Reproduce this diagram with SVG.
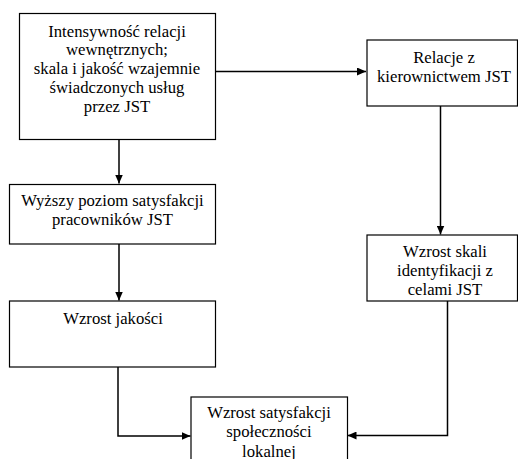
<svg xmlns="http://www.w3.org/2000/svg" width="518" height="459" viewBox="0 0 518 459">
<defs>
<style>
.box{fill:#fff;stroke:#000;stroke-width:1.2}
.t{font-family:'Liberation Serif','Times New Roman',serif;font-size:16.7px;fill:#000;text-anchor:middle}
.c{fill:none;stroke:#000;stroke-width:1.5}
</style>
<marker id="ah" markerUnits="userSpaceOnUse" markerWidth="10" markerHeight="8" refX="9" refY="4" orient="auto">
<path d="M0,0 L9,4 L0,8 Z" fill="#000"/>
</marker>
</defs>
<rect width="518" height="459" fill="#fff"/>
<g id="connectors">
<path class="c" d="M215,71.5 H366" marker-end="url(#ah)"/>
<path class="c" d="M119,139 V183.5" marker-end="url(#ah)"/>
<path class="c" d="M119,244 V300.5" marker-end="url(#ah)"/>
<path class="c" d="M440.5,106 V234.5" marker-end="url(#ah)"/>
<path class="c" d="M118,367 V436 H190.5" marker-end="url(#ah)"/>
<path class="c" d="M447.5,301 V435.5 H347.5" marker-end="url(#ah)"/>
</g>
<g id="n1">
<rect class="box" x="19.5" y="13.5" width="196" height="126"/>
<text class="t" x="117" y="36.7">Intensywność relacji</text>
<text class="t" x="117" y="55.3">wewnętrznych;</text>
<text class="t" x="117" y="74">skala i jakość wzajemnie</text>
<text class="t" x="117" y="92.7">świadczonych usług</text>
<text class="t" x="117" y="111.5">przez JST</text>
</g>
<g id="n2">
<rect class="box" x="367" y="40" width="150.5" height="66"/>
<text class="t" x="444" y="63">Relacje z</text>
<text class="t" x="444" y="82">kierownictwem JST</text>
</g>
<g id="n3">
<rect class="box" x="9.5" y="184.5" width="206" height="59.5"/>
<text class="t" x="112.5" y="206">Wyższy poziom satysfakcji</text>
<text class="t" x="112.5" y="225">pracowników JST</text>
</g>
<g id="n4">
<rect class="box" x="9.5" y="301" width="206" height="66"/>
<text class="t" x="113" y="323.5">Wzrost jakości</text>
</g>
<g id="n5">
<rect class="box" x="367" y="235" width="150.5" height="66"/>
<text class="t" x="445" y="256.7">Wzrost skali</text>
<text class="t" x="445" y="276">identyfikacji z</text>
<text class="t" x="445" y="294.5">celami JST</text>
</g>
<g id="n6">
<rect class="box" x="191" y="397" width="156.5" height="80"/>
<text class="t" x="269" y="418.3">Wzrost satysfakcji</text>
<text class="t" x="269" y="437">społeczności</text>
<text class="t" x="269" y="456.5">lokalnej</text>
</g>
</svg>
